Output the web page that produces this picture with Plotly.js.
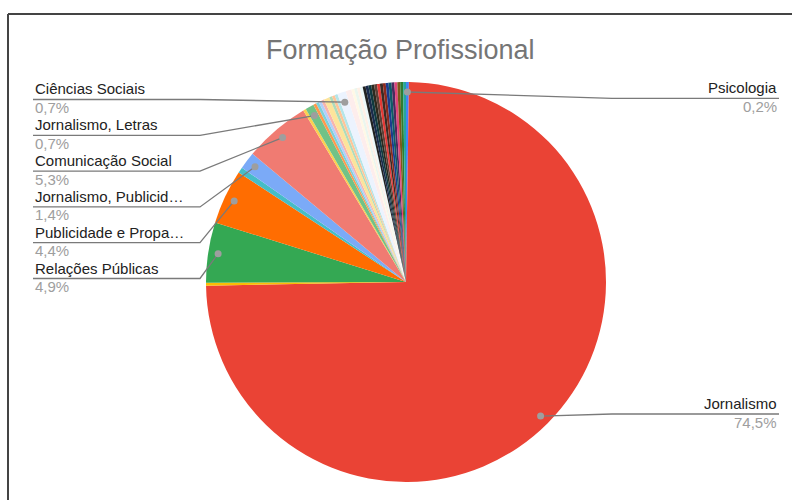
<!DOCTYPE html>
<html><head><meta charset="utf-8">
<script src="https://cdn.plot.ly/plotly-3.0.1.min.js"></script>
<style>html,body{margin:0;padding:0;background:#fff}#chart{width:792px;height:500px}</style>
</head><body><div id="chart"></div>
<script>
// ---------- data ----------
const categories = [
  "Psicologia","Jornalismo","Jornalismo, Relações Públicas","Relações Públicas",
  "Publicidade e Propaganda","Comunicação Social, Jornalismo","Jornalismo, Publicidade e Propaganda",
  "Comunicação Social","Letras","Jornalismo, Letras","Rádio e TV","Cinema",
  "Publicidade e Propaganda, Relações Públicas","Design","Jornalismo, Comunicação Social",
  "História","Direito","Administração","Ciências Sociais","Marketing","Filosofia","Economia",
  "Geografia","Produção Editorial","Artes Visuais","Biologia","Ciência Política","Educação Física",
  "Engenharia","Gestão Pública","Letras, Jornalismo","Matemática","Música","Pedagogia",
  "Relações Internacionais","Serviço Social","Sociologia","Teatro","Turismo"
];
const counts = [
  1,321,1,21,
  19,2,6,
  23,1,3,1,1,
  1,1,2,
  1,1,1,3,2,1,1,
  1,1,1,1,1,1,
  1,1,1,1,1,1,
  1,1,1,1,1
];
const sliceColors = [
  "#4285F4","#EA4335","#FBBC04","#34A853","#FF6D01","#46BDC6","#7BAAF7","#F07B72",
  "#FCD04F","#71C287","#FF994D","#7ED1D7","#B3CEFB","#F7B4AE","#FDE49B","#AEDCBA",
  "#FFC599","#B5E5E8","#ECF3FE","#FDEDEC","#FFF8E6","#EBF6EE","#FFF0E6","#ECF8F9",
  "#212121","#1a2b4c","#103a3f","#2d2a1f","#5d4037","#e53935","#3b2a25","#8d2a1e",
  "#1a3c8f","#0f5b66","#4a2a5e","#e0457b","#7a5a1a","#2e7d32","#26a69a"
];
const leftLabels = ["Ciências Sociais","Jornalismo, Letras","Comunicação Social",
  "Jornalismo, Publicidade e Propaganda","Publicidade e Propaganda","Relações Públicas"];
const leftLabelsShown = ["Ciências Sociais","Jornalismo, Letras","Comunicação Social",
  "Jornalismo, Publicid…","Publicidade e Propa…","Relações Públicas"];
const rightLabels = ["Psicologia","Jornalismo"];
const titleText = "Formação Profissional";

// ---------- layout constants (pixels) ----------
const W = 792, H = 500;
const CX = 406, CY = 282, R = 200, DOT_FRAC = 0.95;
const LEFT_X = 33, LEFT_ELBOW = 200, LEFT_Y0 = 99.5, ROW = 35.8;
const RIGHT_X = 779, RIGHT_ELBOW = 612, RIGHT_Y = [98.3, 414];
const px = x => x / W, py = y => 1 - y / H;

const total = counts.reduce((a,b)=>a+b,0);
const cumBefore = []; let acc = 0;
counts.forEach(v=>{cumBefore.push(acc); acc+=v;});
function dotOf(name){
  const i = categories.indexOf(name);
  const frac = (cumBefore[i] + counts[i]/2)/total;
  const a = 2*Math.PI*frac;
  return {x: CX + R*DOT_FRAC*Math.sin(a), y: CY - R*DOT_FRAC*Math.cos(a),
          pct: (counts[i]/total*100).toFixed(1).replace('.',',') + '%'};
}

const shapes = [
  {type:'line', xref:'paper', yref:'paper', x0:px(8), x1:1, y0:py(14), y1:py(14), line:{color:'#444444', width:2}},
  {type:'line', xref:'paper', yref:'paper', x0:px(8), x1:px(8), y0:py(14), y1:0, line:{color:'#444444', width:2}}
];
const annotations = [];
const FONT = "Arial, 'Liberation Sans', sans-serif";
const nameFont = {family:FONT, size:15, color:"#222222"};
const pctFont = {family:FONT, size:15, color:"#9e9e9e"};
const DOT_SIZE = 3.5;

function leader(x0, y0, xe, d){
  shapes.push({type:'path', xref:'paper', yref:'paper',
    path:`M${px(x0)},${py(y0)} L${px(xe)},${py(y0)} L${px(d.x)},${py(d.y)}`,
    line:{color:'#7a7a7a', width:1.3}});
  shapes.push({type:'circle', xref:'paper', yref:'paper',
    x0:px(d.x-DOT_SIZE), x1:px(d.x+DOT_SIZE), y0:py(d.y+DOT_SIZE), y1:py(d.y-DOT_SIZE),
    fillcolor:'#9e9e9e', line:{width:0}});
}

leftLabels.forEach((name,k)=>{
  const d = dotOf(name);
  const ly = LEFT_Y0 + ROW*k;
  leader(LEFT_X, ly, LEFT_ELBOW, d);
  annotations.push({x:px(LEFT_X), y:py(ly-10.5), xref:'paper', yref:'paper', text:leftLabelsShown[k],
    showarrow:false, xanchor:'left', yanchor:'middle', font:nameFont});
  annotations.push({x:px(LEFT_X), y:py(ly+8), xref:'paper', yref:'paper', text:d.pct,
    showarrow:false, xanchor:'left', yanchor:'middle', font:pctFont});
});
rightLabels.forEach((name,k)=>{
  const d = dotOf(name);
  const ly = RIGHT_Y[k];
  leader(RIGHT_X, ly, RIGHT_ELBOW, d);
  annotations.push({x:px(RIGHT_X), y:py(ly-10.5), xref:'paper', yref:'paper', text:name,
    showarrow:false, xanchor:'right', yanchor:'middle', font:nameFont});
  annotations.push({x:px(RIGHT_X), y:py(ly+8), xref:'paper', yref:'paper', text:d.pct,
    showarrow:false, xanchor:'right', yanchor:'middle', font:pctFont});
});

annotations.push({x:px(400), y:py(50), xref:'paper', yref:'paper', text:titleText, showarrow:false,
  xanchor:'center', yanchor:'middle', font:{family:FONT, size:27, color:'#757575'}});

const pie = {
  type:'pie', labels:categories, values:counts, sort:false, direction:'clockwise',
  rotation:0, textinfo:'none', hoverinfo:'label+percent',
  marker:{colors:sliceColors, line:{width:0}},
  domain:{x:[(CX-R)/W,(CX+R)/W], y:[1-(CY+R)/H, 1-(CY-R)/H]},
  showlegend:false
};

const layout = {
  width:W, height:H, margin:{l:0,r:0,t:0,b:0},
  paper_bgcolor:'#ffffff',
  annotations:annotations,
  shapes:shapes
};
Plotly.newPlot('chart', [pie], layout, {displayModeBar:false});
</script></body></html>
